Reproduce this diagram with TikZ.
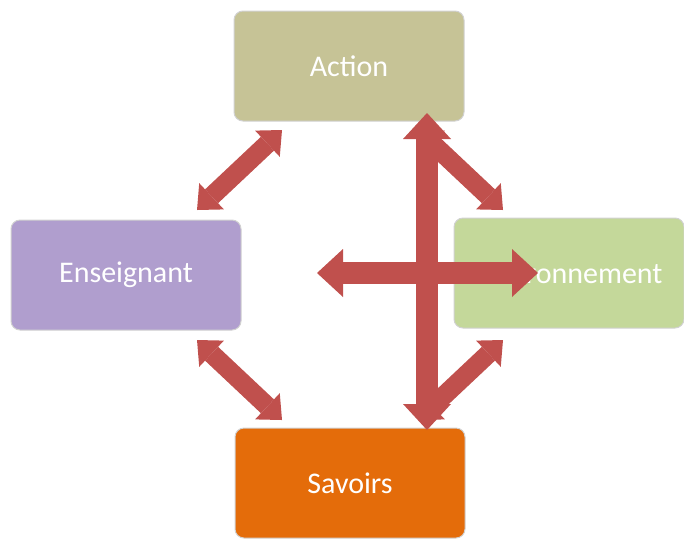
\documentclass[tikz,border=0pt]{standalone}
\usepackage{fontspec}
\setmainfont{Carlito}
\usetikzlibrary{arrows.meta}
\definecolor{actcol}{RGB}{198,195,150}
\definecolor{envcol}{RGB}{196,216,154}
\definecolor{enscol}{RGB}{176,158,206}
\definecolor{savcol}{RGB}{228,108,10}
\definecolor{arrcol}{RGB}{192,80,77}
\tikzset{x=1pt, y=-1pt,
box/.style={ % Sets the properties for the four boxes
rectangle, rounded corners=9pt,
draw=black!18, line width=1pt,
minimum width=230pt, minimum height=110pt,
text=white, font=\fontsize{30}{36}\selectfont},
bigarrow/.style={ % The two long arrows of the cross
draw=arrcol, line width=22pt,
{Triangle[length=26pt,width=48pt,line width=0pt]}-{Triangle[length=26pt,width=48pt,line width=0pt]}},
smallarrow/.style={ % The four short diagonal arrows
draw=arrcol, line width=19pt,
{Triangle[length=20pt,width=36pt,line width=0pt]}-{Triangle[length=20pt,width=36pt,line width=0pt]}}}

\begin{document}
\begin{tikzpicture}
\useasboundingbox (0,0) rectangle (684,539);
\node[box, fill=actcol] (action) at (349,66) {Action};
\node[box, fill=envcol] (env) at (569,273) {Environnement};
\node[box, fill=enscol] (ens) at (126,275) {Enseignant};
\node[box, fill=savcol] (sav) at (350,483) {Savoirs};
% ends of the arrows
\coordinate (tl1) at (197,210);
\coordinate (tl2) at (282,130);
\coordinate (bl1) at (197,340);
\coordinate (bl2) at (282,420);
\coordinate (tr1) at (418,130);
\coordinate (tr2) at (503,210);
\coordinate (br1) at (418,420);
\coordinate (br2) at (503,340);
\coordinate (vtop) at (427,113);
\coordinate (vbot) at (427,430);
\coordinate (hleft) at (317,273);
\coordinate (hright) at (538,273);
\draw[smallarrow] (tl1) -- (tl2);
\draw[smallarrow] (bl1) -- (bl2);
\draw[smallarrow] (tr1) -- (tr2);
\draw[smallarrow] (br1) -- (br2);
\draw[bigarrow] (vtop) -- (vbot);
\draw[bigarrow] (hleft) -- (hright);
\end{tikzpicture}
\end{document}
